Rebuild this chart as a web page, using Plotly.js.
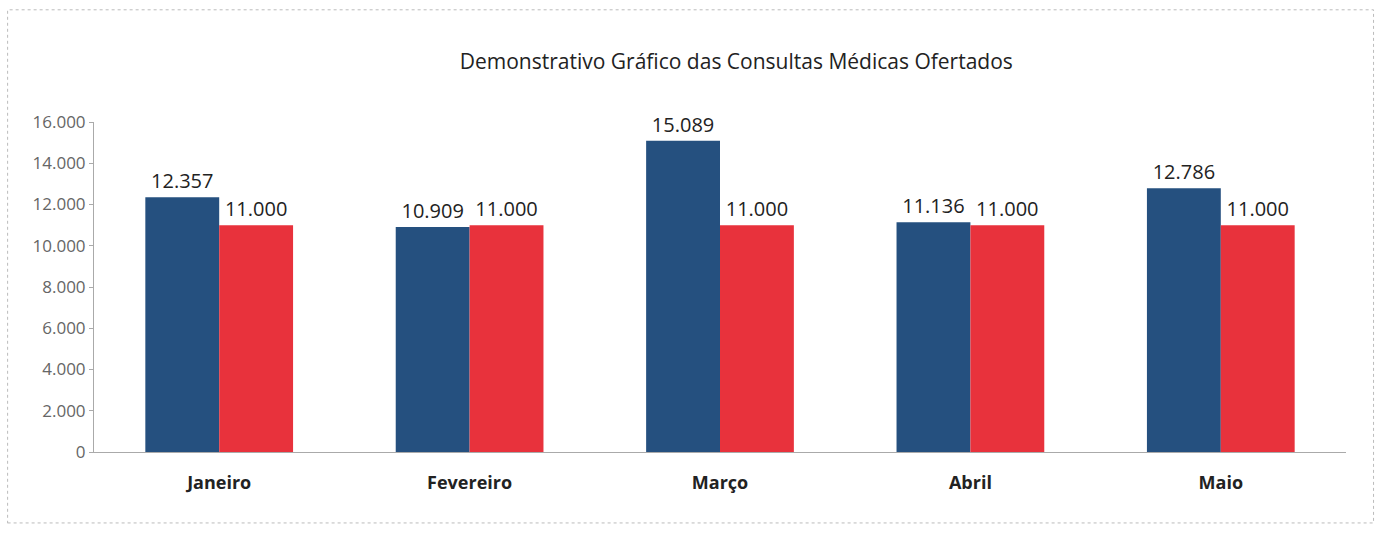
<!DOCTYPE html>
<html>
<head>
<meta charset="utf-8">
<script src="https://cdn.plot.ly/plotly-3.0.1.min.js"></script>
<style>html,body{margin:0;padding:0;background:#fff;}#chart{width:1384px;height:538px;}</style>
</head>
<body>
<div id="chart"></div>
<script>
const categories = ["Janeiro", "Fevereiro", "Março", "Abril", "Maio"];
const realizadas = [12357, 10909, 15089, 11136, 12786];
const ofertadas = [11000, 11000, 11000, 11000, 11000];
const yTickVals = [0, 2000, 4000, 6000, 8000, 10000, 12000, 14000, 16000];

const fontFam = "'Open Sans', 'Noto Sans', 'Liberation Sans', sans-serif";

const traces = [
  {
    type: 'bar', x: categories, y: realizadas, name: 'Realizadas',
    marker: {color: '#25507f'},
    texttemplate: '%{y:,.0f}', textposition: 'outside', cliponaxis: false,
    textfont: {family: fontFam, size: 20, color: '#222'},
    hoverinfo: 'x+y'
  },
  {
    type: 'bar', x: categories, y: ofertadas, name: 'Ofertadas',
    marker: {color: '#e8323c'},
    texttemplate: '%{y:,.0f}', textposition: 'outside', cliponaxis: false,
    textfont: {family: fontFam, size: 20, color: '#222'},
    hoverinfo: 'x+y'
  }
];

const layout = {
  width: 1384, height: 538,
  separators: ',.',
  paper_bgcolor: '#ffffff', plot_bgcolor: '#ffffff',
  margin: {l: 94, r: 38, t: 122, b: 86},
  showlegend: false,
  barmode: 'group', bargap: 0.41, bargroupgap: 0,
  title: {
    text: 'Demonstrativo Gráfico das Consultas Médicas Ofertados',
    font: {family: fontFam, size: 21, color: '#222'},
    x: 0.532, xanchor: 'center', y: 0.885, yanchor: 'middle'
  },
  xaxis: {
    type: 'category',
    showline: true, linecolor: '#aaa', linewidth: 1,
    ticks: '', showgrid: false,
    tickfont: {family: fontFam, size: 18, color: '#222', weight: 'bold'},
    ticklabelstandoff: 14
  },
  yaxis: {
    range: [0, 16000], tickvals: yTickVals, tickformat: ',.0f',
    showline: true, linecolor: '#aaa', linewidth: 1,
    ticks: 'outside', ticklen: 4, tickcolor: '#aaa',
    showgrid: false, zeroline: false,
    tickfont: {family: fontFam, size: 17, color: '#666'}
  },
  shapes: [
    {type: 'rect', xref: 'paper', yref: 'paper', x0: -0.069, x1: 1.022, y0: -0.215, y1: 1.34,
     line: {color: '#bbb', width: 1, dash: 'dot'}}
  ]
};

Plotly.newPlot('chart', traces, layout, {displayModeBar: false, staticPlot: true});
</script>
</body>
</html>
